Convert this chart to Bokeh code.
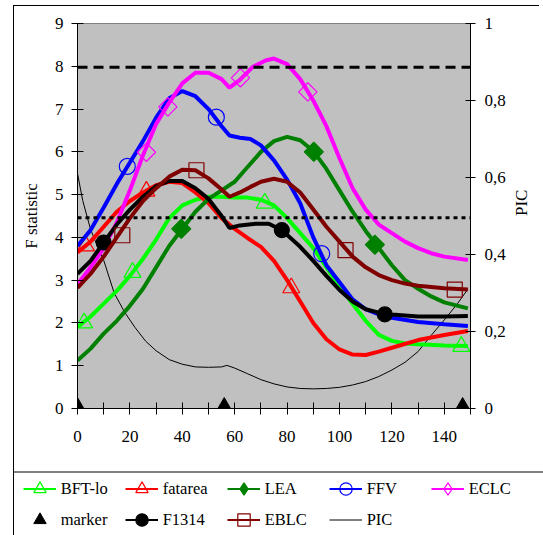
import numpy as np
from bokeh.plotting import figure
from bokeh.models import (Range1d, LinearAxis, FixedTicker, CustomJSTickFormatter,
                          Span, Legend, LegendItem)
from bokeh.embed import file_html
from bokeh.resources import INLINE

# ---------------- data ----------------
bft_x = [0, 5, 10, 15, 20, 25, 30, 35, 40, 45, 50, 55, 60, 65, 70, 75, 80, 85, 90, 95, 100, 105, 110, 115, 120, 125, 130, 140, 149]
bft_y = [1.9, 2.15, 2.45, 2.75, 3.1, 3.5, 3.95, 4.45, 4.75, 4.88, 4.95, 4.95, 4.93, 4.93, 4.88, 4.75, 4.45, 4.1, 3.75, 3.3, 2.85, 2.45, 2.05, 1.72, 1.58, 1.52, 1.5, 1.47, 1.46]
bft_mx = [2.5, 21, 71.5, 146.5]
bft_my = [2.0, 3.18, 4.8, 1.45]

fat_x = [0, 5, 10, 15, 20, 25, 30, 35, 40, 45, 50, 55, 60, 65, 70, 75, 80, 85, 90, 95, 100, 105, 110, 115, 120, 130, 140, 149]
fat_y = [3.65, 3.9, 4.25, 4.6, 4.85, 5.05, 5.22, 5.3, 5.27, 5.05, 4.8, 4.45, 4.2, 3.98, 3.78, 3.45, 3.0, 2.5, 2.0, 1.62, 1.38, 1.26, 1.25, 1.33, 1.42, 1.6, 1.72, 1.81]
fat_mx = [3.2, 26.3, 81.6]
fat_my = [3.8, 5.08, 2.82]

lea_x = [0, 5, 10, 15, 20, 25, 30, 35, 40, 45, 50, 55, 60, 65, 70, 75, 80, 85, 90, 95, 100, 105, 110, 115, 120, 125, 130, 135, 140, 149]
lea_y = [1.12, 1.4, 1.75, 2.05, 2.4, 2.8, 3.3, 3.8, 4.2, 4.6, 4.9, 5.1, 5.3, 5.65, 6.0, 6.25, 6.35, 6.27, 6.02, 5.6, 5.1, 4.6, 4.15, 3.75, 3.35, 3.0, 2.8, 2.62, 2.48, 2.34]
lea_mx = [39.6, 90.2, 113.5]
lea_my = [4.2, 6.0, 3.83]

ffv_x = [0, 5, 10, 15, 20, 25, 30, 35, 40, 45, 50, 55, 58, 62, 66, 70, 75, 80, 85, 90, 95, 100, 105, 110, 115, 120, 130, 140, 149]
ffv_y = [3.8, 4.17, 4.7, 5.25, 5.75, 6.25, 6.8, 7.25, 7.42, 7.3, 7.0, 6.6, 6.38, 6.33, 6.3, 6.15, 5.8, 5.35, 4.8, 4.0, 3.35, 2.95, 2.55, 2.32, 2.2, 2.12, 2.02, 1.97, 1.93]
ffv_mx = [19, 53, 93.2]
ffv_my = [5.66, 6.81, 3.62]

eclc_x = [0, 5, 10, 15, 20, 25, 30, 35, 40, 45, 50, 55, 58, 62, 67, 72, 75, 80, 85, 90, 95, 100, 105, 110, 115, 120, 125, 130, 135, 140, 149]
eclc_y = [2.9, 3.3, 3.75, 4.35, 5.1, 5.92, 6.65, 7.15, 7.6, 7.85, 7.85, 7.7, 7.5, 7.68, 7.99, 8.14, 8.18, 8.05, 7.7, 7.2, 6.6, 5.85, 5.15, 4.65, 4.3, 4.1, 3.9, 3.75, 3.63, 3.55, 3.47]
eclc_mx = [26.3, 34.5, 62.2, 87.9]
eclc_my = [5.99, 7.05, 7.73, 7.4]

f1314_x = [0, 5, 10, 15, 20, 25, 30, 35, 40, 45, 50, 55, 58, 62, 68, 73, 78, 85, 90, 95, 100, 105, 110, 115, 120, 130, 140, 149]
f1314_y = [3.15, 3.45, 3.88, 4.3, 4.65, 4.95, 5.2, 5.32, 5.32, 5.15, 4.9, 4.5, 4.22, 4.28, 4.32, 4.32, 4.17, 3.78, 3.45, 3.1, 2.77, 2.5, 2.32, 2.24, 2.2, 2.15, 2.15, 2.16]
f1314_mx = [10, 78, 117.3]
f1314_my = [3.88, 4.17, 2.2]

eblc_x = [0, 5, 10, 15, 20, 25, 30, 35, 40, 45, 50, 55, 58, 62, 66, 70, 75, 80, 85, 90, 95, 100, 105, 110, 115, 120, 125, 130, 140, 149]
eblc_y = [2.82, 3.15, 3.55, 4.0, 4.45, 4.85, 5.15, 5.42, 5.58, 5.57, 5.38, 5.12, 4.95, 5.05, 5.18, 5.3, 5.37, 5.3, 5.05, 4.65, 4.25, 3.9, 3.55, 3.3, 3.12, 3.0, 2.92, 2.87, 2.81, 2.78]
eblc_mx = [17.1, 45.4, 102.3, 144]
eblc_my = [4.05, 5.57, 3.7, 2.78]

pic_x = [0, 2, 5, 8, 10, 14, 18, 22, 26, 30, 35, 40, 45, 50, 55, 57, 60, 65, 70, 75, 80, 85, 90, 95, 100, 105, 110, 115, 120, 125, 130, 135, 140, 145, 149]
pic_y = [0.61, 0.54, 0.465, 0.415, 0.385, 0.30, 0.25, 0.21, 0.175, 0.15, 0.127, 0.115, 0.108, 0.107, 0.108, 0.112, 0.105, 0.09, 0.075, 0.064, 0.056, 0.052, 0.051, 0.052, 0.055, 0.061, 0.07, 0.083, 0.10, 0.12, 0.148, 0.19, 0.23, 0.272, 0.31]

marker_x = [0, 56, 147]
marker_y = [0, 0, 0]

dash_level = 7.98
dot_level = 4.46

x_major = [0, 20, 40, 60, 80, 100, 120, 140]
x_minor = [10, 30, 50, 70, 90, 110, 130, 150]
y_left_ticks = [0, 1, 2, 3, 4, 5, 6, 7, 8, 9]
y_right_ticks = [0, 0.2, 0.4, 0.6, 0.8, 1.0]

FONT = "Liberation Serif"

# name -> (colour, plot marker, size, filled, angle, legend marker, legend size)
styles = {
    "BFT-lo": ("#00FF00", "triangle", 17, False, 0.0, "triangle", 12),
    "fatarea": ("#FF0000", "triangle", 17, False, 0.0, "triangle", 12),
    "LEA": ("#008000", "square", 13.5, True, np.pi / 4, "diamond", 14),
    "FFV": ("#0000FF", "circle", 16, False, 0.0, "circle", 11),
    "ECLC": ("#FF00FF", "square", 13, False, np.pi / 4, "diamond", 14),
    "F1314": ("#000000", "circle", 15, True, 0.0, "circle", 11),
    "EBLC": ("#800000", "square", 15, False, 0.0, "square", 11),
}
series_data = {
    "BFT-lo": (bft_x, bft_y, bft_mx, bft_my),
    "fatarea": (fat_x, fat_y, fat_mx, fat_my),
    "LEA": (lea_x, lea_y, lea_mx, lea_my),
    "FFV": (ffv_x, ffv_y, ffv_mx, ffv_my),
    "ECLC": (eclc_x, eclc_y, eclc_mx, eclc_my),
    "F1314": (f1314_x, f1314_y, f1314_mx, f1314_my),
    "EBLC": (eblc_x, eblc_y, eblc_mx, eblc_my),
}
legend_order = ["BFT-lo", "fatarea", "LEA", "FFV", "ECLC", "marker", "F1314", "EBLC", "PIC"]


def series(fig, name, legend_style=False):
    xs, ys, mx, my = series_data[name]
    color, marker, size, filled, angle, lmarker, lsize = styles[name]
    if legend_style:
        marker, size, angle, lw, vis = lmarker, lsize, 0.0, 2, False
    else:
        lw, vis = 4, True
    lr = fig.line(xs, ys, line_color=color, line_width=lw, visible=vis)
    sr = fig.scatter(mx, my, marker=marker, size=size, angle=angle,
                     line_color=color, line_width=1.2,
                     fill_color=color if filled else None, visible=vis)
    return [lr, sr]


def pic_line(fig, visible=True, **kw):
    return fig.line(pic_x, pic_y, line_color="black", line_width=1, visible=visible, **kw)


def marker_pts(fig, visible=True, size=19):
    return fig.scatter(marker_x, marker_y, marker="triangle", size=size,
                       fill_color="black", line_color="black", visible=visible)


# ---------------- main figure ----------------
p = figure(width=543, height=471, x_range=Range1d(0, 150), y_range=Range1d(0, 9),
           output_backend="svg", toolbar_location=None,
           min_border_left=77, min_border_right=71, min_border_top=23, min_border_bottom=63)
p.background_fill_color = "#C0C0C0"
p.border_fill_color = None
p.outline_line_color = "#808080"
p.xgrid.visible = False
p.ygrid.visible = False
p.extra_y_ranges = {"pic": Range1d(0, 1)}
p.styles = {
    "background": ("linear-gradient(#000,#000) 13px 5px / 1px 600px no-repeat, "
                   "linear-gradient(#000,#000) 13px 5px / 526px 1px no-repeat, "
                   "#ffffff"),
}


def style_axis(ax):
    ax.axis_line_color = "black"
    ax.major_tick_line_color = "black"
    ax.minor_tick_line_color = "black"
    ax.major_tick_in = 6
    ax.major_tick_out = 6
    ax.major_label_text_font = FONT
    ax.major_label_text_font_size = "17px"
    ax.major_label_text_color = "black"
    ax.axis_label_text_font = FONT
    ax.axis_label_text_font_size = "17px"
    ax.axis_label_text_font_style = "normal"
    ax.axis_label_text_color = "black"


xa = p.xaxis[0]
style_axis(xa)
xa.ticker = FixedTicker(ticks=x_major, minor_ticks=x_minor)
xa.minor_tick_in = 6
xa.minor_tick_out = 6
xa.major_label_standoff = 16

ya = p.yaxis[0]
style_axis(ya)
ya.ticker = FixedTicker(ticks=y_left_ticks)
ya.minor_tick_line_color = None
ya.axis_label = "F statistic"
ya.major_label_standoff = 8
ya.axis_label_standoff = 11

ra = LinearAxis(y_range_name="pic", axis_label="PIC")
style_axis(ra)
ra.ticker = FixedTicker(ticks=y_right_ticks)
ra.minor_tick_line_color = None
ra.major_tick_in = 5
ra.major_tick_out = 5
ra.major_label_standoff = 9
ra.axis_label_standoff = 13
ra.axis_label_orientation = np.pi / 2
ra.formatter = CustomJSTickFormatter(code="""
const s = (Math.round(tick*10)/10).toString();
return s.replace('.', ',');
""")
p.add_layout(ra, "right")

p.add_layout(Span(location=dash_level, dimension="width", line_color="black",
                  line_width=3, line_dash="10 6"))
p.add_layout(Span(location=dot_level, dimension="width", line_color="black",
                  line_width=3, line_dash="4 4"))

pic_line(p, y_range_name="pic")
for name in ["BFT-lo", "fatarea", "LEA", "FFV", "ECLC", "F1314", "EBLC"]:
    series(p, name)
marker_pts(p)

# ---------------- legend strip ----------------
lg = figure(width=543, height=64, x_range=Range1d(0, 150), y_range=Range1d(0, 9),
            output_backend="svg", toolbar_location=None,
            x_axis_location=None, y_axis_location=None,
            min_border_left=0, min_border_right=0, min_border_top=0, min_border_bottom=0)
lg.xgrid.visible = False
lg.ygrid.visible = False
lg.outline_line_color = None
lg.background_fill_color = None
lg.border_fill_color = None
lg.styles = {
    "background": ("linear-gradient(#808080,#808080) 14px 0px / 600px 2px no-repeat, "
                   "linear-gradient(#000,#000) 13px 0px / 1px 100px no-repeat, "
                   "#ffffff"),
}

items = []
for name in legend_order:
    if name == "marker":
        r = [marker_pts(lg, visible=False, size=13)]
    elif name == "PIC":
        r = [pic_line(lg, visible=False)]
    else:
        r = series(lg, name, legend_style=True)
    items.append(LegendItem(label=name, renderers=r))

legend = Legend(items=items, location=(22.7, 0), orientation="horizontal", ncols=5)
legend.label_text_font = FONT
legend.label_text_font_size = "16.5px"
legend.label_text_color = "black"
legend.glyph_width = 33
legend.glyph_height = 31
legend.label_height = 31
legend.label_width = 64
legend.label_standoff = 5
legend.spacing = 0
legend.padding = 0
legend.margin = 0
legend.border_line_color = None
legend.background_fill_alpha = 0
legend.inactive_fill_alpha = 0
legend.click_policy = "none"
lg.add_layout(legend)

open("out.html", "w").write(file_html([p, lg], INLINE))
